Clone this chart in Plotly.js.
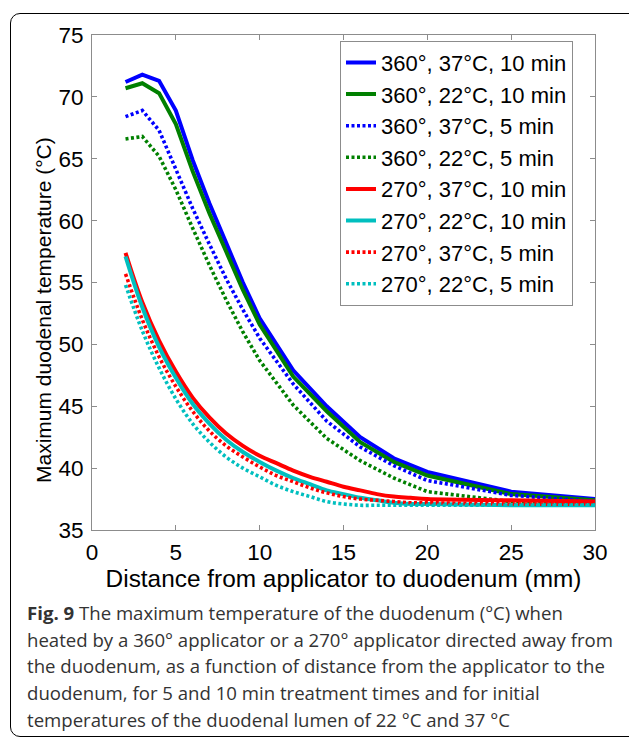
<!DOCTYPE html>
<html>
<head>
<meta charset="utf-8">
<script src="https://cdn.plot.ly/plotly-3.0.1.min.js"></script>
<style>
  html, body { margin: 0; padding: 0; background: #fff; overflow: hidden; }
  #wrap { position: relative; width: 629px; height: 737px; }
  #chart { position: absolute; left: 0; top: 0; width: 629px; height: 737px; }
  #frame { position: absolute; left: 10px; top: 13px; width: 660px; height: 722px;
           border: 1.5px solid #000; border-radius: 10px; pointer-events: none; }
</style>
</head>
<body>
<div id="wrap">
  <div id="chart"></div>
  <div id="frame"></div>
</div>
<script>
// Distances (mm)
const dist360 = [2, 3, 4, 5, 6, 7, 8, 9, 10, 12, 14, 16, 18, 20, 25, 30];
const dist270 = [2, 3, 4, 5, 6, 7, 8, 9, 10, 11, 12, 13, 14, 15, 16, 17, 18, 19, 20, 25, 30];

// 360° applicator
const t360_37_10 = [71.2, 71.8, 71.3, 68.9, 64.9, 61.4, 58.2, 55.0, 52.1, 47.9, 45.0, 42.5, 40.8, 39.7, 38.1, 37.5];
const t360_22_10 = [70.7, 71.1, 70.3, 67.8, 64.0, 60.6, 57.5, 54.4, 51.6, 47.4, 44.6, 42.1, 40.5, 39.4, 37.9, 37.4];
const t360_37_5  = [68.4, 68.9, 67.3, 64.1, 61.0, 58.1, 55.3, 52.8, 50.5, 46.8, 43.8, 41.7, 40.2, 39.0, 37.8, 37.3];
const t360_22_5  = [66.6, 66.8, 65.2, 62.5, 59.4, 56.4, 53.6, 51.0, 48.7, 45.1, 42.4, 40.6, 39.2, 38.1, 37.3, 37.1];

// 270° applicator
const t270_37_10 = [57.4, 53.4, 50.3, 47.8, 45.7, 44.1, 42.8, 41.8, 41.0, 40.4, 39.8, 39.3, 38.9, 38.5, 38.2, 37.9, 37.7, 37.6, 37.5, 37.4, 37.3];
const t270_22_10 = [57.1, 53.0, 49.8, 47.3, 45.2, 43.6, 42.3, 41.3, 40.5, 39.8, 39.2, 38.7, 38.2, 37.9, 37.6, 37.4, 37.2, 37.1, 37.1, 37.0, 37.0];
const t270_37_5  = [55.7, 52.0, 49.0, 46.6, 44.6, 43.0, 41.8, 40.9, 40.1, 39.4, 38.9, 38.4, 38.0, 37.7, 37.5, 37.4, 37.3, 37.2, 37.2, 37.1, 37.1];
const t270_22_5  = [54.8, 51.1, 48.1, 45.6, 43.6, 42.1, 40.9, 40.0, 39.3, 38.6, 38.1, 37.7, 37.3, 37.1, 37.0, 37.0, 37.0, 37.0, 37.0, 37.0, 37.0];

const seriesNames = [
  "360°, 37°C, 10 min", "360°, 22°C, 10 min", "360°, 37°C, 5 min", "360°, 22°C, 5 min",
  "270°, 37°C, 10 min", "270°, 22°C, 10 min", "270°, 37°C, 5 min", "270°, 22°C, 5 min"
];
const xTicks = [0, 5, 10, 15, 20, 25, 30];
const yTicks = [35, 40, 45, 50, 55, 60, 65, 70, 75];

const captionLines = [
  "<b>Fig. 9</b> The maximum temperature of the duodenum (°C) when",
  "heated by a 360° applicator or a 270° applicator directed away from",
  "the duodenum, as a function of distance from the applicator to the",
  "duodenum, for 5 and 10 min treatment times and for initial",
  "temperatures of the duodenal lumen of 22 °C and 37 °C"
];

const BLUE = "#0000ff", GREEN = "#008000", RED = "#ff0000", CYAN = "#00bfbf";
const DOT = "3px,2.5px";

function tr(x, y, name, color, dotted, shape) {
  return {
    type: "scatter", mode: "lines", x: x, y: y, name: name,
    line: { color: color, width: dotted ? 3.6 : 4, dash: dotted ? DOT : "solid", shape: shape || "linear" }
  };
}

const data = [
  tr(dist360, t360_37_10, seriesNames[0], BLUE, false),
  tr(dist360, t360_22_10, seriesNames[1], GREEN, false),
  tr(dist360, t360_37_5,  seriesNames[2], BLUE, true),
  tr(dist360, t360_22_5,  seriesNames[3], GREEN, true),
  tr(dist270, t270_37_10, seriesNames[4], RED, false, "spline"),
  tr(dist270, t270_22_10, seriesNames[5], CYAN, false, "spline"),
  tr(dist270, t270_37_5,  seriesNames[6], RED, true, "spline"),
  tr(dist270, t270_22_5,  seriesNames[7], CYAN, true, "spline")
];

const L = 92, R = 34, T = 35, B = 207;
const PW = 629 - L - R, PH = 737 - T - B;
const px2x = p => (p - L) / PW;
const px2y = p => (737 - B - p) / PH;

const FONT = "Liberation Sans, Arial, sans-serif";
const captionY = [612.3, 639, 665.7, 692.3, 719];
const annotations = captionLines.map((t, i) => ({
  text: t, xref: "paper", yref: "paper", x: px2x(25), y: px2y(captionY[i]),
  xanchor: "left", yanchor: "middle", showarrow: false, align: "left",
  font: { family: "Open Sans, Noto Sans, sans-serif", size: 18.6, color: "#333333" }
}));
annotations.push({
  text: "Maximum duodenal temperature (°C)", xref: "paper", yref: "paper",
  x: px2x(43), y: px2y(310), textangle: -90, showarrow: false,
  xanchor: "center", yanchor: "middle",
  font: { family: FONT, size: 21, color: "#000" }
});

const axisCommon = {
  showline: true, linecolor: "#8c8c8c", linewidth: 1, mirror: "ticks",
  ticks: "inside", ticklen: 5, tickwidth: 1, tickcolor: "#8c8c8c",
  showgrid: false, zeroline: false,
  tickfont: { family: FONT, size: 22.5, color: "#000" }
};

const layout = {
  width: 629, height: 737,
  margin: { l: L, r: R, t: T, b: B },
  paper_bgcolor: "rgba(0,0,0,0)", plot_bgcolor: "#fff",
  showlegend: true,
  xaxis: Object.assign({}, axisCommon, {
    range: [0, 30], tickvals: xTicks, ticktext: xTicks.map(String),
    ticklabelstandoff: 2,
    title: { text: "Distance from applicator to duodenum (mm)", standoff: 0,
             font: { family: FONT, size: 24.4, color: "#000" } }
  }),
  yaxis: Object.assign({}, axisCommon, {
    range: [35, 75], tickvals: yTicks, ticktext: yTicks.map(String),
    ticklabelstandoff: 3
  }),
  legend: {
    x: px2x(340), y: px2y(40.7), xanchor: "left", yanchor: "top",
    bgcolor: "#fff", bordercolor: "#8c8c8c", borderwidth: 1,
    font: { family: FONT, size: 22, color: "#000" },
    itemwidth: 30, tracegroupgap: 0
  },
  annotations: annotations
};

Plotly.newPlot("chart", data, layout, { staticPlot: true, displayModeBar: false });
</script>
</body>
</html>
